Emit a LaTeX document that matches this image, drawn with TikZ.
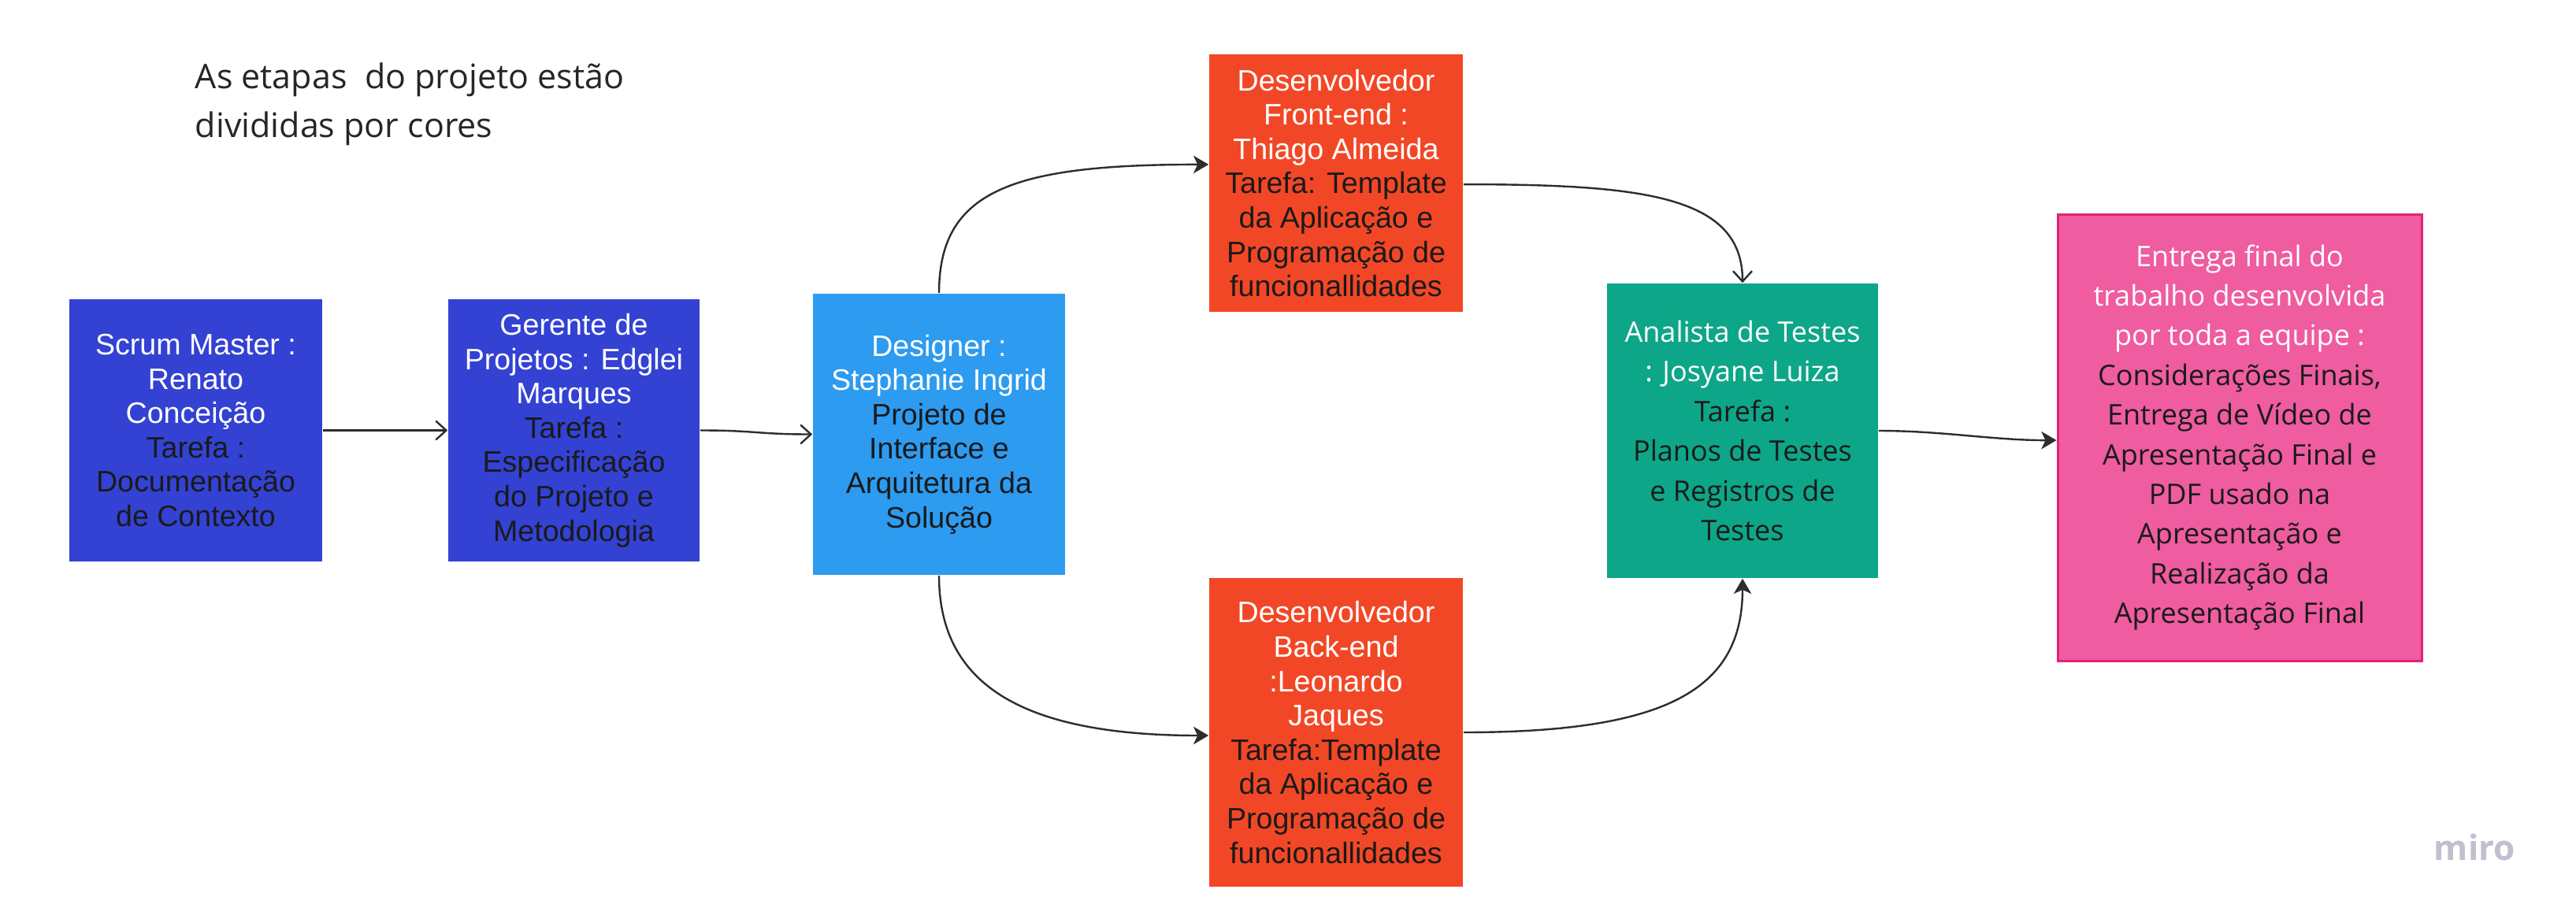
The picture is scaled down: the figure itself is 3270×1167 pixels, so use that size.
\documentclass[tikz,border=0pt]{standalone}
\usepackage{fontspec}
\setmainfont{Liberation Sans}
\newfontfamily\arialf{Liberation Sans}
\newfontfamily\osans{Open Sans}
\usetikzlibrary{arrows.meta}
\definecolor{mblue}{RGB}{51,66,211}
\definecolor{lblue}{RGB}{45,155,240}
\definecolor{mred}{RGB}{242,71,38}
\definecolor{mgreen}{RGB}{13,166,136}
\definecolor{mpink}{RGB}{239,92,160}
\definecolor{mpinkb}{RGB}{224,36,111}
\definecolor{txtdark}{RGB}{26,26,26}
\definecolor{toptxt}{RGB}{38,38,38}
\definecolor{linec}{RGB}{45,45,45}
\definecolor{mirogray}{RGB}{190,192,205}
\newcommand{\W}[1]{\textcolor{white}{#1}}
\begin{document}
\begin{tikzpicture}[x=0.25pt,y=-0.25pt,
  box/.style={rectangle, inner sep=0pt, align=center, text=txtdark},
  arialbox/.style={box, font=\arialf\fontsize{9.4pt}{10.9pt}\selectfont},
  osbox/.style={box, font=\osans\fontsize{9pt}{12.6pt}\selectfont},
  conn/.style={draw=linec, line width=0.6pt},
  filltip/.style={-{Stealth[length=4.8pt,width=5.6pt,inset=1.3pt]}},
  opentip/.style={-{Straight Barb[length=3.3pt,width=6pt]}}
]
\fill[white] (0,0) rectangle (3270,1167);
\useasboundingbox (0,0) rectangle (3270,1167);

\node[font=\osans\fontsize{10.75pt}{15.5pt}\selectfont, text=toptxt, align=left,
      anchor=base west, inner sep=0pt] (intro) at (247,174)
  {As etapas\ \ do projeto estão\\divididas por cores};

\node[arialbox, fill=mblue, minimum width=80.25pt, minimum height=83.25pt] (scrum) at (248.5,546.5)
  {\W{Scrum Master :}\\\W{Renato}\\\W{Conceição}\\Tarefa :\\Documentação\\de Contexto};

\node[arialbox, fill=mblue, minimum width=79.75pt, minimum height=83.25pt] (gerente) at (728.5,546.5)
  {\W{Gerente de}\\\W{Projetos : Edglei}\\\W{Marques}\\Tarefa :\\Especificação\\do Projeto e\\Metodologia};

\node[arialbox, fill=lblue, minimum width=80pt, minimum height=89.25pt] (designer) at (1192,551.5)
  {\W{Designer :}\\\W{Stephanie Ingrid}\\Projeto de\\Interface e\\Arquitetura da\\Solução};

\node[arialbox, fill=mred, minimum width=80.5pt, minimum height=81.75pt] (frontend) at (1696,232.5)
  {\W{Desenvolvedor}\\\W{Front-end :}\\\W{Thiago Almeida}\\Tarefa: Template\\da Aplicação e\\Programação de\\funcionallidades};

\node[arialbox, fill=mred, minimum width=80.5pt, minimum height=98pt] (backend) at (1696,930)
  {\W{Desenvolvedor}\\\W{Back-end}\\\W{:Leonardo}\\\W{Jaques}\\Tarefa:Template\\da Aplicação e\\Programação de\\funcionallidades};

\node[osbox, fill=mgreen, minimum width=86pt, minimum height=93.5pt] (analista) at (2212,547)
  {\W{Analista de Testes}\\\W{: Josyane Luiza}\\Tarefa :\\Planos de Testes\\e Registros de\\Testes};

\node[osbox, fill=mpink, draw=mpinkb, line width=0.75pt, minimum width=115.5pt, minimum height=141.75pt] (entrega) at (2843,555.5)
  {\W{Entrega final do}\\\W{trabalho desenvolvida}\\\W{por toda a equipe :}\\Considerações Finais,\\Entrega de Vídeo de\\Apresentação Final e\\PDF usado na\\Apresentação e\\Realização da\\Apresentação Final};

\node[font=\osans\bfseries\fontsize{11pt}{13pt}\selectfont, text=mirogray, anchor=base west, inner sep=0pt] (miro) at (3089,1092) {miro};

\draw[conn, opentip] (scrum) -- (gerente);
\draw[conn, opentip] (gerente.east) .. controls +(70,0) and +(-70,0) .. (designer.west);
\draw[conn, filltip] (designer.north) .. controls +(0,-130) and +(-250,0) .. ([yshift=5.9pt]frontend.west);
\draw[conn, filltip] (designer.south) .. controls +(0,130) and +(-250,0) .. ([yshift=-1pt]backend.west);
\draw[conn, opentip] ([yshift=-0.4pt]frontend.east) .. controls +(230,0) and +(0,-110) .. (analista.north);
\draw[conn, filltip] (backend.east) .. controls +(260,0) and +(0,140) .. (analista.south);
\draw[conn, filltip] (analista.east) .. controls +(80,0) and +(-80,0) .. ([yshift=-0.9pt]entrega.west);
\end{tikzpicture}
\end{document}
